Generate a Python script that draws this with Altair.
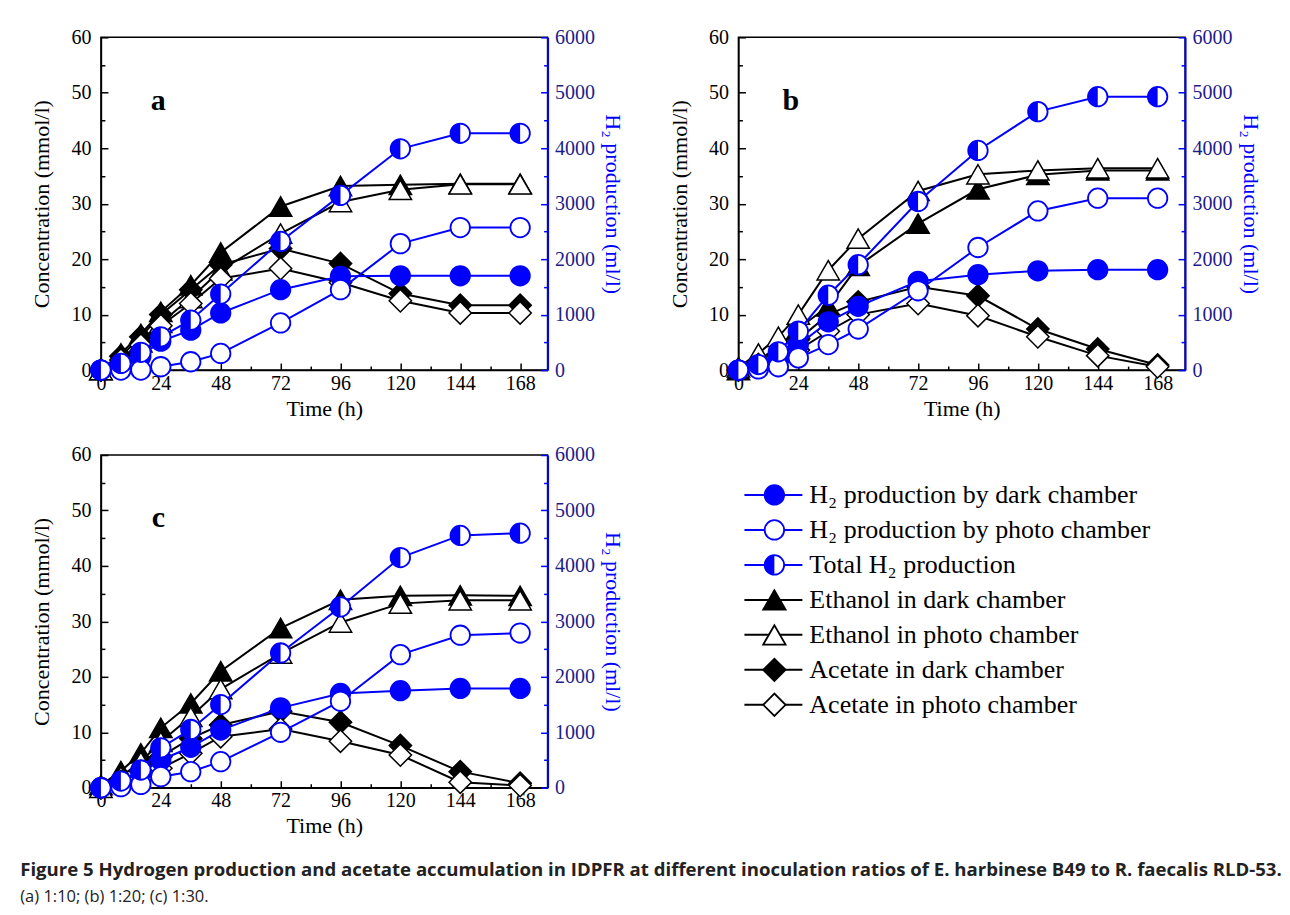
import altair as alt
import pandas as pd

FONT = "Liberation Serif"
BLUE = "#0000ff"

times = [0, 8, 16, 24, 36, 48, 72, 96, 120, 144, 168]

conc_names = ["Ethanol in dark chamber", "Ethanol in photo chamber",
              "Acetate in dark chamber", "Acetate in photo chamber"]
h2_names = ["H\u2082 production by dark chamber", "H\u2082 production by photo chamber",
            "Total H\u2082 production"]

# panel a (1:10)
a_eth_dark = [0, 3.0, 6.5, 10.5, 15.3, 21.2, 29.5, 33.2, 33.4, 33.6, 33.6]
a_eth_photo = [0, 2.0, 5.0, 8.5, 13.0, 18.0, 24.6, 30.3, 32.5, 33.5, 33.5]
a_ace_dark = [0, 2.5, 6.0, 10.0, 14.5, 19.0, 21.9, 19.2, 13.8, 11.7, 11.7]
a_ace_photo = [0, 1.8, 4.5, 8.0, 12.0, 16.5, 18.3, 15.8, 12.5, 10.3, 10.3]
a_h2_dark = [0, 100, 250, 520, 720, 1030, 1450, 1690, 1700, 1700, 1700]
a_h2_photo = [0, 0, 0, 60, 150, 300, 850, 1450, 2280, 2570, 2570]
a_h2_total = [0, 120, 320, 600, 900, 1370, 2320, 3150, 3990, 4270, 4270]

# panel b (1:20)
b_eth_dark = [0, 1.8, 4.2, 7.5, 11.5, 18.8, 26.4, 32.6, 35.2, 36.0, 36.0]
b_eth_photo = [0.5, 3.0, 6.0, 10.0, 18.0, 23.7, 32.3, 35.3, 36.0, 36.4, 36.4]
b_ace_dark = [0, 1.0, 2.8, 5.5, 10.0, 12.3, 15.0, 13.4, 7.4, 3.8, 0.9]
b_ace_photo = [0, 0.6, 1.8, 3.6, 7.0, 10.0, 12.0, 9.8, 6.0, 2.6, 0.6]
b_h2_dark = [0, 80, 250, 450, 870, 1150, 1600, 1720, 1790, 1810, 1810]
b_h2_photo = [0, 20, 60, 220, 460, 740, 1430, 2210, 2870, 3100, 3100]
b_h2_total = [0, 100, 330, 700, 1350, 1900, 3040, 3960, 4660, 4930, 4930]

# panel c (1:30)
c_eth_dark = [0.5, 3.0, 6.2, 10.8, 15.2, 21.0, 28.8, 33.9, 34.6, 34.7, 34.6]
c_eth_photo = [0, 2.0, 4.7, 8.3, 12.8, 17.8, 24.2, 29.8, 33.2, 33.8, 33.8]
c_ace_dark = [0, 1.1, 2.9, 5.6, 8.9, 11.3, 13.8, 11.8, 7.6, 2.9, 0.8]
c_ace_photo = [0, 0.5, 1.7, 3.5, 6.2, 9.2, 10.6, 8.4, 5.9, 1.0, 0.4]
c_h2_dark = [0, 100, 280, 500, 730, 1040, 1440, 1700, 1750, 1790, 1790]
c_h2_photo = [0, 20, 60, 200, 290, 470, 1000, 1560, 2400, 2750, 2790]
c_h2_total = [0, 120, 320, 720, 1050, 1500, 2430, 3260, 4150, 4550, 4590]

panel_letters = ["a", "b", "c"]
legend_labels = h2_names + conc_names

caption = ("Figure 5 Hydrogen production and acetate accumulation in IDPFR at different "
           "inoculation ratios of E. harbinese B49 to R. faecalis RLD-53.")
caption_sub = "(a) 1:10; (b) 1:20; (c) 1:30."

W, H = 447, 333
HALF = "M0,-1A1,1,0,0,0,0,1Z"

conc_style = {
    conc_names[0]: ("triangle-up", "black"),
    conc_names[1]: ("triangle-up", "white"),
    conc_names[2]: ("diamond", "black"),
    conc_names[3]: ("diamond", "white"),
}
h2_style = {
    h2_names[0]: BLUE,
    h2_names[1]: "white",
    h2_names[2]: "white",
}

x_enc = alt.X(
    "time:Q",
    scale=alt.Scale(domain=[0, 179], nice=False),
    axis=alt.Axis(
        values=list(range(0, 169, 12)),
        labelExpr="datum.value % 24 === 0 ? datum.label : ''",
        tickSize={"expr": "datum.value % 24 === 0 ? -7 : -4"},
        title="Time (h)", grid=False,
        labelFont=FONT, labelFontSize=20, labelColor="black", labelPadding=10,
        titleFont=FONT, titleFontSize=22, titleFontWeight="normal", titleColor="black",
        titlePadding=2, domainColor="black", domainWidth=1.5, tickColor="black",
        tickWidth=1.5, labelFlush=False, labelOverlap=False,
    ),
)

y_left = alt.Y(
    "value:Q",
    scale=alt.Scale(domain=[0, 60], nice=False),
    axis=alt.Axis(
        values=list(range(0, 61, 5)),
        labelExpr="datum.value % 10 === 0 ? datum.label : ''",
        tickSize={"expr": "datum.value % 10 === 0 ? -7 : -4"},
        title="Concentration (mmol/l)", grid=False,
        labelFont=FONT, labelFontSize=20, labelColor="black", labelPadding=17,
        titleFont=FONT, titleFontSize=22, titleFontWeight="normal", titleColor="black",
        titlePadding=17, domainColor="black", domainWidth=1.5, tickColor="black",
        tickWidth=1.5, labelFlush=False, labelOverlap=False,
    ),
)

y_right = alt.Y(
    "value:Q",
    scale=alt.Scale(domain=[0, 6000], nice=False),
    axis=alt.Axis(
        orient="right",
        values=list(range(0, 6001, 500)),
        labelExpr="datum.value % 1000 === 0 ? datum.label : ''",
        tickSize={"expr": "datum.value % 1000 === 0 ? -7 : -4"},
        format="d",
        title="H\u2082 production (ml/l)", grid=False,
        labelFont=FONT, labelFontSize=20, labelColor="#1c1c8a", labelPadding=14,
        titleFont=FONT, titleFontSize=22, titleFontWeight="normal", titleColor=BLUE,
        titlePadding=6, domainColor=BLUE, domainWidth=2, tickColor=BLUE,
        tickWidth=1.5, labelFlush=False, labelOverlap=False,
    ),
)


def make_panel(letter, lx, ly, conc_lists, h2_lists):
    rows_c = []
    for name, vals in zip(conc_names, conc_lists):
        for t, v in zip(times, vals):
            rows_c.append({"series": name, "time": t, "value": v})
    rows_h = []
    for name, vals in zip(h2_names, h2_lists):
        for t, v in zip(times, vals):
            rows_h.append({"series": name, "time": t, "value": v})
    dfc = pd.DataFrame(rows_c)
    dfh = pd.DataFrame(rows_h)

    left_layers = []
    for name in conc_names:
        shape, fill = conc_style[name]
        base = alt.Chart(dfc).transform_filter(alt.datum.series == name)
        left_layers.append(base.mark_line(color="black", strokeWidth=2).encode(x=x_enc, y=y_left))
        left_layers.append(base.mark_point(shape=shape, filled=True, fill=fill, stroke="black",
                                           strokeWidth=1.5, size=500, opacity=1)
                           .encode(x=x_enc, y=y_left))
    left_layers.append(
        alt.Chart(pd.DataFrame({"time": [lx], "value": [ly], "t": [letter]}))
        .mark_text(font=FONT, fontWeight="bold", fontSize=30, color="black")
        .encode(x=x_enc, y=y_left, text="t:N")
    )

    right_layers = []
    for name in h2_names:
        base = alt.Chart(dfh).transform_filter(alt.datum.series == name)
        right_layers.append(base.mark_line(color=BLUE, strokeWidth=2).encode(x=x_enc, y=y_right))
        right_layers.append(base.mark_point(shape="circle", filled=True, fill=h2_style[name],
                                            stroke=BLUE, strokeWidth=1.8, size=380, opacity=1)
                            .encode(x=x_enc, y=y_right))
        if name == h2_names[2]:
            right_layers.append(base.mark_point(shape=HALF, filled=True, fill=BLUE,
                                                strokeWidth=0, size=380, opacity=1)
                                .encode(x=x_enc, y=y_right))

    left = alt.layer(*left_layers)
    right = alt.layer(*right_layers)
    return alt.layer(left, right).resolve_scale(y="independent").properties(width=W, height=H)


pa = make_panel(panel_letters[0], 23, 48.6,
                [a_eth_dark, a_eth_photo, a_ace_dark, a_ace_photo],
                [a_h2_dark, a_h2_photo, a_h2_total])
pb = make_panel(panel_letters[1], 21, 48.6,
                [b_eth_dark, b_eth_photo, b_ace_dark, b_ace_photo],
                [b_h2_dark, b_h2_photo, b_h2_total])
pc = make_panel(panel_letters[2], 23, 48.6,
                [c_eth_dark, c_eth_photo, c_ace_dark, c_ace_photo],
                [c_h2_dark, c_h2_photo, c_h2_total])

# legend panel
leg_df = pd.DataFrame({"label": legend_labels})
leg_y = alt.Y("label:N",
              scale=alt.Scale(type="point", domain=legend_labels, range=[40, 250], padding=0),
              axis=None)
leg_color = [BLUE, BLUE, BLUE, "black", "black", "black", "black"]
leg_shape = ["circle", "circle", "circle", "triangle-up", "triangle-up", "diamond", "diamond"]
leg_fill = [BLUE, "white", "white", "black", "white", "black", "white"]

leg_layers = []
for i, lab in enumerate(legend_labels):
    base = alt.Chart(leg_df).transform_filter(alt.datum.label == lab)
    leg_layers.append(base.mark_rule(color=leg_color[i], strokeWidth=2)
                      .encode(x=alt.value(76), x2=alt.value(134), y=leg_y))
    size = 380 if leg_shape[i] == "circle" else 500
    leg_layers.append(base.mark_point(shape=leg_shape[i], filled=True, fill=leg_fill[i],
                                      stroke=leg_color[i], strokeWidth=1.8, size=size, opacity=1)
                      .encode(x=alt.value(106), y=leg_y))
    if i == 2:
        leg_layers.append(base.mark_point(shape=HALF, filled=True, fill=BLUE, strokeWidth=0,
                                          size=380, opacity=1)
                          .encode(x=alt.value(106), y=leg_y))
leg_layers.append(
    alt.Chart(leg_df).mark_text(font=FONT, fontSize=26, align="left", baseline="middle",
                                color="black")
    .encode(x=alt.value(141), y=leg_y, text="label:N")
)
legend = alt.layer(*leg_layers).properties(
    width=480, height=H, view=alt.ViewBackground(stroke="transparent")
)

chart = alt.vconcat(
    alt.hconcat(pa, pb, spacing=43),
    alt.hconcat(pc, legend, spacing=43),
    spacing=24,
).properties(
    padding={"left": 12, "top": 18, "right": 0, "bottom": 0},
    title=alt.TitleParams(
        text=caption, subtitle=caption_sub, orient="bottom", anchor="start",
        font="Open Sans", fontSize=18.6, fontWeight="bold", color="#222222",
        subtitleFont="Open Sans", subtitleFontSize=16.5, subtitleColor="#222222",
        offset=24, dx=-10, subtitlePadding=9,
    ),
).configure_view(stroke="black", strokeWidth=1.5)

chart.save("out.html", embed_options={"renderer": "svg", "actions": False})
